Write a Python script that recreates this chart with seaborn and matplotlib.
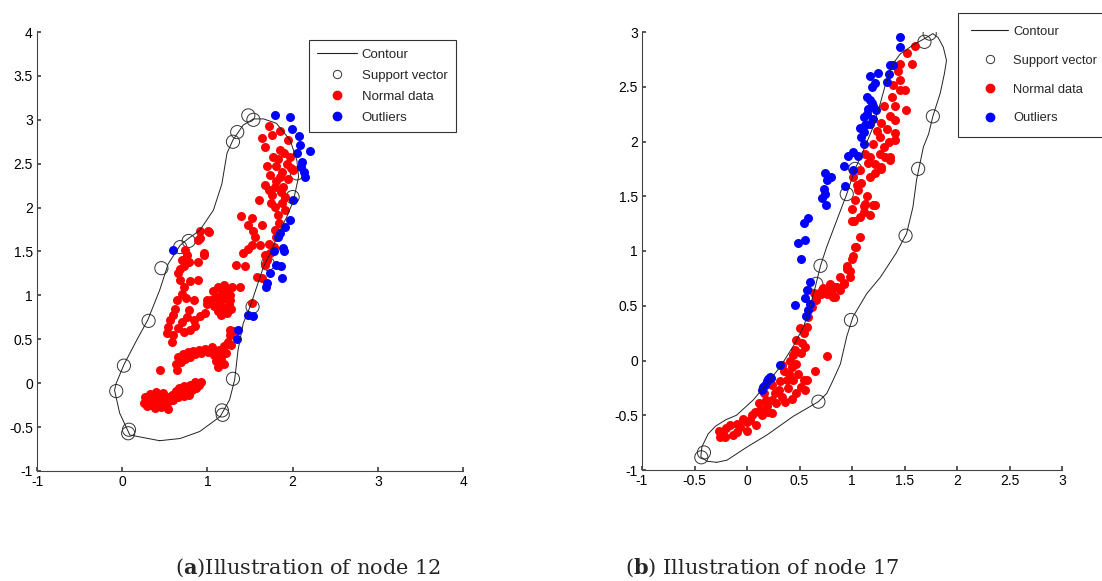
import numpy as np
import matplotlib
matplotlib.use("Agg")
import matplotlib.pyplot as plt
from matplotlib.lines import Line2D
import seaborn as sns

# ---- node 12 (panel a) ----
contour_a_x = [0.44, 0.09, -0.03, -0.09, -0.07, 0.02, 0.17, 0.30, 0.44, 0.54, 0.68, 0.78, 0.91, 1.07,
               1.17, 1.23, 1.30, 1.42, 1.54, 1.66, 1.81, 1.97, 2.05, 2.07, 2.01, 1.93, 1.83, 1.74,
               1.66, 1.58, 1.50, 1.42, 1.36, 1.32, 1.26, 1.15, 0.91, 0.68, 0.44]
contour_a_y = [-0.655, -0.59, -0.34, -0.08, 0.0, 0.21, 0.49, 0.72, 1.06, 1.36, 1.57, 1.65, 1.74, 1.97,
               2.27, 2.62, 2.77, 2.94, 3.01, 3.01, 2.96, 2.77, 2.54, 2.35, 2.08, 1.89, 1.70, 1.48,
               1.33, 1.10, 0.87, 0.68, 0.38, 0.04, -0.19, -0.38, -0.55, -0.63, -0.655]

support_a = np.array([
    (1.48, 3.05), (1.54, 3.00), (1.35, 2.86), (1.30, 2.75), (0.78, 1.62), (0.68, 1.55), (0.46, 1.31),
    (0.31, 0.71), (0.02, 0.20), (-0.07, -0.09), (0.08, -0.53), (0.07, -0.57), (1.17, -0.31),
    (1.18, -0.36), (1.30, 0.05), (1.53, 0.87), (2.00, 2.12), (2.05, 2.39), (1.71, 1.36)])

normal_a = np.array([
    # lower band
    (0.25, -0.22), (0.27, -0.16), (0.29, -0.26), (0.31, -0.19), (0.33, -0.12), (0.34, -0.25),
    (0.36, -0.18), (0.38, -0.28), (0.40, -0.10), (0.41, -0.21), (0.43, -0.15), (0.45, -0.27),
    (0.47, -0.19), (0.48, -0.11), (0.50, -0.23), (0.52, -0.16), (0.54, -0.29), (0.55, -0.20),
    (0.58, -0.13), (0.60, -0.19), (0.63, -0.09), (0.65, -0.16), (0.67, -0.05), (0.69, -0.12),
    (0.72, -0.15), (0.73, -0.03), (0.75, -0.09), (0.78, -0.13), (0.80, -0.02), (0.82, -0.08),
    (0.85, 0.01), (0.87, -0.05), (0.90, -0.02), (0.93, 0.01), (0.44, 0.15),
    # middle band
    (0.63, 0.22), (0.64, 0.15), (0.66, 0.30), (0.69, 0.24), (0.71, 0.33), (0.74, 0.28), (0.77, 0.35),
    (0.80, 0.30), (0.83, 0.37), (0.86, 0.33), (0.90, 0.38), (0.93, 0.34), (0.97, 0.39), (1.01, 0.36),
    (1.05, 0.41), (1.08, 0.32), (1.10, 0.25), (1.12, 0.18), (1.14, 0.38), (1.16, 0.29), (1.19, 0.22),
    (1.20, 0.42), (1.22, 0.34), (1.24, 0.47), (1.26, 0.55), (1.28, 0.44), (1.30, 0.60), (1.23, 0.45),
    # left column
    (0.76, 1.46), (0.72, 1.33), (0.89, 1.38), (0.96, 1.46), (0.68, 1.18), (0.80, 1.16), (0.89, 1.18),
    (0.70, 1.02), (0.84, 0.95), (0.62, 0.85), (0.56, 0.72), (0.52, 0.57), (0.58, 0.47), (0.66, 0.63),
    (0.80, 0.61), (0.84, 0.72), (0.91, 0.76), (0.97, 0.80), (0.99, 0.95), (0.78, 0.83), (0.89, 1.63),
    (1.02, 1.72), (0.70, 1.40), (0.74, 1.52), (0.66, 1.25), (0.72, 1.10), (0.64, 0.95), (0.60, 0.78),
    (0.54, 0.64), (0.60, 0.55), (0.70, 0.70), (0.76, 0.75), (0.72, 0.58), (0.86, 0.65), (0.68, 1.30),
    (0.78, 1.38), (0.75, 0.97),
    # block near x=1.15
    (1.04, 0.95), (1.07, 1.05), (1.08, 0.88), (1.10, 0.98), (1.12, 1.10), (1.13, 0.82), (1.15, 0.93),
    (1.17, 1.03), (1.18, 0.86), (1.20, 1.12), (1.21, 0.97), (1.23, 0.80), (1.24, 1.06), (1.25, 0.90),
    (1.27, 1.00), (1.28, 0.84), (1.29, 1.10), (1.00, 0.90), (1.16, 0.78), (1.26, 0.95),
    (1.38, 1.10), (1.52, 0.91), (1.27, 0.61),
    # upper right
    (1.72, 2.93), (1.85, 2.87), (1.64, 2.79), (1.76, 2.83), (1.95, 2.77), (1.68, 2.69), (1.85, 2.66),
    (1.77, 2.58), (1.97, 2.58), (1.70, 2.47), (1.81, 2.47), (1.93, 2.50), (2.01, 2.43), (1.74, 2.37),
    (1.85, 2.35), (1.95, 2.33), (1.68, 2.26), (1.79, 2.24), (1.89, 2.24), (1.76, 2.14), (1.91, 2.12),
    (1.60, 2.09), (1.79, 2.01), (1.87, 2.05), (1.83, 1.92), (1.91, 1.97), (1.40, 1.90), (1.52, 1.88),
    (1.48, 1.80), (1.64, 1.80), (1.54, 1.73), (1.79, 1.74), (1.56, 1.67), (1.52, 1.57), (1.62, 1.57),
    (1.72, 1.59), (1.42, 1.48), (1.48, 1.53), (1.68, 1.46), (1.74, 1.48), (1.34, 1.35), (1.44, 1.33),
    (1.68, 1.35), (1.58, 1.21), (1.64, 1.20), (0.91, 1.73), (1.01, 1.73), (0.96, 1.48), (0.91, 1.65),
    (1.80, 2.30), (1.88, 2.40), (1.83, 2.55), (1.72, 2.20), (1.86, 2.18), (1.98, 2.45), (1.90, 2.62),
    (1.75, 2.05), (1.84, 1.83), (1.80, 1.66), (1.70, 1.40), (1.78, 1.55)])

outlier_a = np.array([
    (1.79, 3.05), (1.97, 3.03), (1.99, 2.90), (2.07, 2.81), (2.09, 2.71), (2.05, 2.62), (2.20, 2.64),
    (2.11, 2.52), (2.13, 2.41), (2.15, 2.35), (2.10, 2.46), (2.00, 2.09), (1.97, 1.86), (1.91, 1.78),
    (1.85, 1.71), (1.83, 1.67), (1.89, 1.54), (1.90, 1.50), (1.78, 1.50), (1.81, 1.35), (1.86, 1.33),
    (1.88, 1.20), (1.74, 1.25), (1.70, 1.14), (1.69, 1.10), (1.48, 0.78), (1.53, 0.76), (1.36, 0.61),
    (1.35, 0.50), (0.60, 1.52)])

# ---- node 17 (panel b) ----
contour_b_x = [-0.29, -0.38, -0.44, -0.43, -0.37, -0.30, -0.20, -0.10, 0.06, 0.19, 0.315, 0.44, 0.54,
               0.60, 0.65, 0.70, 0.76, 0.855, 0.95, 1.03, 1.11, 1.20, 1.27, 1.33, 1.39, 1.46, 1.58,
               1.71, 1.77, 1.82, 1.87, 1.90, 1.88, 1.84, 1.77, 1.73, 1.68, 1.615, 1.58, 1.52, 1.42,
               1.27, 1.14, 1.01, 0.95, 0.92, 0.89, 0.82, 0.76, 0.68, 0.44, 0.19, 0.0, -0.19, -0.29]
contour_b_y = [-0.93, -0.92, -0.88, -0.79, -0.67, -0.60, -0.54, -0.50, -0.36, -0.21, -0.06, 0.13, 0.31,
               0.49, 0.67, 0.865, 1.04, 1.28, 1.52, 1.75, 1.92, 2.13, 2.35, 2.56, 2.71, 2.80, 2.88,
               2.95, 2.985, 2.95, 2.86, 2.74, 2.62, 2.44, 2.23, 2.07, 1.95, 1.65, 1.40, 1.16, 0.98,
               0.76, 0.61, 0.40, 0.22, 0.095, -0.03, -0.18, -0.30, -0.376, -0.51, -0.68, -0.79, -0.91, -0.93]

support_b = np.array([
    (-0.435, -0.884), (-0.41, -0.84), (0.68, -0.376), (0.99, 0.37), (1.51, 1.14), (1.63, 1.75),
    (1.77, 2.23), (1.74, 2.985), (1.69, 2.91), (0.95, 1.52), (1.03, 1.75), (0.70, 0.865), (0.66, 0.70)])

normal_b = np.array([
    # lower band
    (-0.27, -0.64), (-0.23, -0.67), (-0.13, -0.68), (-0.16, -0.59), (-0.07, -0.61), (-0.04, -0.53),
    (0.03, -0.54), (0.08, -0.47), (0.14, -0.50), (0.19, -0.42), (0.24, -0.36), (0.28, -0.39),
    (0.33, -0.33), (0.30, -0.27), (0.36, -0.38), (0.43, -0.35), (0.47, -0.30), (0.51, -0.24),
    (0.54, -0.18), (0.55, -0.27), (0.38, -0.18), (0.35, -0.10), (0.43, -0.06), (0.47, -0.03),
    (0.51, 0.07), (0.46, 0.10), (0.52, 0.16), (0.54, 0.25), (0.57, 0.31), (0.58, 0.40), (0.62, 0.49),
    (0.76, 0.04), (0.65, -0.10), (0.57, -0.18), (0.24, -0.48), (0.09, -0.59), (0.00, -0.64),
    (-0.10, -0.65), (-0.21, -0.70), (-0.26, -0.70), (0.16, -0.30), (0.11, -0.39), (0.24, -0.22),
    (0.31, -0.19), (0.39, -0.25), (0.44, -0.18), (0.41, 0.00), (0.47, 0.19), (0.33, -0.04),
    (-0.20, -0.62), (-0.10, -0.58), (0.00, -0.56), (0.05, -0.50), (0.12, -0.45), (0.18, -0.36),
    (0.20, -0.47), (0.27, -0.30), (0.40, -0.12), (0.49, -0.12), (0.44, 0.05), (0.50, 0.30), (0.55, 0.12),
    # middle shelf
    (1.12, 1.43), (1.20, 1.42), (1.11, 1.36), (1.02, 1.27), (1.08, 1.13), (1.04, 1.04), (1.01, 0.95),
    (0.95, 0.86), (0.98, 0.76), (0.89, 0.76), (0.855, 0.67), (0.81, 0.61), (0.84, 0.58), (0.76, 0.64),
    (0.70, 0.61), (0.66, 0.55), (0.64, 0.62), (0.92, 0.70), (0.79, 0.70), (0.72, 0.66),
    # upper band
    (1.60, 2.87), (1.52, 2.81), (1.57, 2.71), (1.46, 2.71), (1.44, 2.64), (1.39, 2.52), (1.46, 2.47),
    (1.38, 2.41), (1.51, 2.29), (1.41, 2.32), (1.30, 2.32), (1.36, 2.23), (1.41, 2.20), (1.28, 2.17),
    (1.33, 2.11), (1.41, 2.08), (1.27, 2.04), (1.20, 1.98), (1.30, 1.95), (1.36, 1.86), (1.17, 1.86),
    (1.27, 1.89), (1.12, 1.89), (1.22, 1.79), (1.28, 1.77), (1.08, 1.74), (1.17, 1.68), (1.22, 1.71),
    (1.09, 1.62), (1.01, 1.68), (1.06, 1.56), (1.14, 1.50), (1.03, 1.47), (1.00, 1.38), (1.11, 1.41),
    (1.22, 1.42), (1.08, 1.31), (1.17, 1.33), (1.00, 1.27), (1.03, 1.04), (1.00, 0.93), (0.95, 0.84),
    (0.98, 0.82), (0.92, 0.71), (0.84, 0.67), (0.89, 0.64), (0.76, 0.61), (0.71, 0.64), (0.66, 0.58),
    (0.82, 0.58), (1.28, 1.75), (1.31, 1.86), (1.36, 1.83), (1.41, 2.01), (1.50, 2.47), (1.46, 2.56),
    (1.24, 2.10), (1.35, 2.00), (1.15, 1.80), (1.05, 1.60)])

outlier_b = np.array([
    (1.46, 2.95), (1.46, 2.86), (1.36, 2.70), (1.39, 2.70), (1.35, 2.62), (1.25, 2.63), (1.17, 2.60),
    (1.22, 2.53), (1.19, 2.50), (1.33, 2.54), (1.14, 2.41), (1.17, 2.38), (1.20, 2.32), (1.23, 2.29),
    (1.14, 2.25), (1.11, 2.22), (1.20, 2.21), (1.17, 2.16), (1.08, 2.12), (1.11, 2.09), (1.09, 2.04),
    (1.11, 1.98), (1.01, 1.90), (0.96, 1.87), (1.06, 1.87), (0.92, 1.78), (1.01, 1.74), (0.93, 1.59),
    (0.74, 1.71), (0.76, 1.65), (0.73, 1.57), (0.74, 1.52), (0.71, 1.48), (0.75, 1.42), (0.80, 1.68),
    (0.585, 1.30), (0.54, 1.26), (0.55, 1.10), (0.49, 1.07), (0.515, 0.93), (0.60, 0.72), (0.57, 0.64),
    (0.55, 0.57), (0.60, 0.52), (0.585, 0.46), (0.56, 0.41), (0.46, 0.51), (0.31, -0.04), (0.22, -0.15),
    (0.19, -0.19), (0.155, -0.24), (0.14, -0.27), (0.20, -0.17), (0.23, -0.16), (0.17, -0.22),
    (1.15, 2.30), (1.19, 2.35), (1.12, 2.15)])

legend_labels = ["Contour", "Support vector", "Normal data", "Outliers"]
captions = [r"($\mathbf{a}$)Illustration of node 12", r"($\mathbf{b}$) Illustration of node 17"]
ticks_a_x = [-1, 0, 1, 2, 3, 4]
ticks_a_y = [-1, -0.5, 0, 0.5, 1, 1.5, 2, 2.5, 3, 3.5, 4]
ticks_b = [-1, -0.5, 0, 0.5, 1, 1.5, 2, 2.5, 3]

sns.set_theme(style="ticks", rc={
    "xtick.direction": "in", "ytick.direction": "in",
    "xtick.major.size": 3, "ytick.major.size": 3,
    "axes.edgecolor": "#444444", "axes.linewidth": 0.8,
    "axes.unicode_minus": False,
})
plt.rcParams["font.family"] = ["Liberation Sans", "DejaVu Sans"]
plt.rcParams["mathtext.fontset"] = "custom"
plt.rcParams["mathtext.rm"] = "DejaVu Serif"
plt.rcParams["mathtext.bf"] = "DejaVu Serif:bold"

fig = plt.figure(figsize=(11.02, 5.81), dpi=100)
ax_a = fig.add_axes([37 / 1102, 1 - 471 / 581, 426 / 1102, 439 / 581])
ax_b = fig.add_axes([642 / 1102, 1 - 470 / 581, 420 / 1102, 438 / 581])


def tick_text(v):
    return f"{v:g}"


def draw_panel(ax, cx, cy, sv, normal, outl, xt, yt):
    sns.lineplot(x=cx, y=cy, sort=False, estimator=None, color="#222222", lw=0.7, ax=ax)
    sns.scatterplot(x=sv[:, 0], y=sv[:, 1], s=90, marker="o", ax=ax)
    ax.collections[-1].set_facecolor("none")
    ax.collections[-1].set_edgecolor("#333333")
    ax.collections[-1].set_linewidth(0.7)
    sns.scatterplot(x=normal[:, 0], y=normal[:, 1], s=42, color="red", linewidth=0, ax=ax)
    sns.scatterplot(x=outl[:, 0], y=outl[:, 1], s=42, color="blue", linewidth=0, ax=ax)
    sns.despine(ax=ax)
    ax.set_xlim(xt[0], xt[-1])
    ax.set_ylim(yt[0], yt[-1])
    ax.set_xticks(xt)
    ax.set_xticklabels([tick_text(v) for v in xt])
    ax.set_yticks(yt)
    ax.set_yticklabels([tick_text(v) for v in yt])
    ax.set_xlabel("")
    ax.set_ylabel("")
    ax.tick_params(labelsize=10, colors="#444444", labelcolor="black", pad=3)


draw_panel(ax_a, contour_a_x, contour_a_y, support_a, normal_a, outlier_a, ticks_a_x, ticks_a_y)
draw_panel(ax_b, contour_b_x, contour_b_y, support_b, normal_b, outlier_b, ticks_b, ticks_b)


def legend_handles():
    return [
        Line2D([], [], color="#222222", lw=0.8),
        Line2D([], [], ls="none", marker="o", ms=6, mfc="none", mec="#333333", mew=0.7),
        Line2D([], [], ls="none", marker="o", ms=6, mfc="red", mec="red"),
        Line2D([], [], ls="none", marker="o", ms=6, mfc="blue", mec="blue"),
    ]


leg_a = ax_a.legend(legend_handles(), legend_labels, loc="upper right",
                    bbox_to_anchor=(456 / 1102, 1 - 40 / 581), bbox_transform=fig.transFigure,
                    borderaxespad=0, fontsize=9.5, handlelength=3.0, handletextpad=0.35,
                    labelspacing=0.66, borderpad=0.65, fancybox=False, framealpha=1)
leg_b = ax_b.legend(legend_handles(), legend_labels, loc="upper left",
                    bbox_to_anchor=(958 / 1102, 1 - 13 / 581), bbox_transform=fig.transFigure,
                    borderaxespad=0, fontsize=9.3, handlelength=2.9, handletextpad=0.35,
                    labelspacing=1.3, borderpad=1.0, fancybox=False, framealpha=1)
for leg in (leg_a, leg_b):
    leg.get_frame().set_edgecolor("#333333")
    leg.get_frame().set_linewidth(0.8)

fig.text(308 / 1102, 1 - 568 / 581, captions[0], ha="center", va="center",
         fontsize=15, family="DejaVu Serif")
fig.text(762 / 1102, 1 - 568 / 581, captions[1], ha="center", va="center",
         fontsize=15, family="DejaVu Serif")

fig.savefig("out.png", dpi=100)
